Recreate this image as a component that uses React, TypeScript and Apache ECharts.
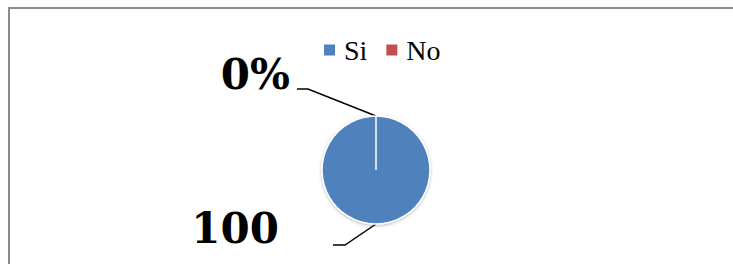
import React, { useEffect, useRef } from "react";
import * as echarts from "echarts";

const categories = ["Si", "No"];
const values = [100, 0];
const colors = ["#4F81BD", "#C0504D"];
const labelTexts = ["100", "0%"];

const pieCenter = [376, 170];
const pieRadius = 54;

// label placement offsets relative to the slice anchor point (layout styling)
const labelOffsets = [
  { tx: -97, ty: 4, line: [[-31, 21], [-43, 21]] },
  { tx: -86, ty: -42, line: [[-68, -27], [-79, -27]] },
];

export default function App() {
  const ref = useRef<HTMLDivElement>(null);
  useEffect(() => {
    if (!ref.current) return;
    const chart = echarts.init(ref.current, null, { renderer: "svg" });
    chart.setOption({
      animation: false,
      backgroundColor: "#ffffff",
      graphic: [
        {
          type: "line",
          shape: { x1: 8, y1: 8, x2: 733, y2: 8 },
          style: { stroke: "#8c8c8c", lineWidth: 2 },
          silent: true,
        },
        {
          type: "line",
          shape: { x1: 9, y1: 7, x2: 9, y2: 264 },
          style: { stroke: "#8c8c8c", lineWidth: 2 },
          silent: true,
        },
        {
          type: "line",
          z: 100,
          shape: {
            x1: pieCenter[0],
            y1: pieCenter[1],
            x2: pieCenter[0],
            y2: pieCenter[1] - pieRadius,
          },
          style: { stroke: "#ffffff", lineWidth: 1.5 },
          silent: true,
        },
      ],
      legend: {
        data: categories,
        left: 322,
        top: 36,
        padding: 0,
        icon: "rect",
        itemWidth: 13,
        itemHeight: 13,
        itemGap: 17,
        selectedMode: false,
        textStyle: {
          fontFamily: "Liberation Serif",
          fontSize: 28,
          color: "#000",
          padding: [0, 0, 0, 3],
        },
      },
      series: [
        {
          type: "pie",
          center: pieCenter,
          radius: pieRadius,
          startAngle: 90,
          clockwise: true,
          avoidLabelOverlap: false,
          data: categories.map((c, i) => ({
            name: c,
            value: values[i],
            itemStyle: { color: colors[i] },
          })),
          itemStyle: {
            borderColor: "#ffffff",
            borderWidth: 1.5,
            shadowBlur: 3,
            shadowOffsetY: 1,
            shadowColor: "rgba(0,0,0,0.3)",
          },
          label: {
            show: true,
            position: "outside",
            formatter: (p: any) => labelTexts[p.dataIndex],
            fontFamily: "DejaVu Serif",
            fontWeight: "bold",
            fontSize: 42,
            color: "#000",
          },
          labelLine: {
            show: true,
            length: 20,
            length2: 10,
            lineStyle: { color: "#000", width: 1.5 },
          },
          labelLayout: (params: any) => {
            const o = labelOffsets[params.dataIndex];
            const pts = params.labelLinePoints;
            const a = pts && pts[0] ? pts[0] : pieCenter;
            return {
              x: a[0] + o.tx,
              y: a[1] + o.ty,
              align: "right",
              verticalAlign: "middle",
              labelLinePoints: [
                [a[0], a[1]],
                [a[0] + o.line[0][0], a[1] + o.line[0][1]],
                [a[0] + o.line[1][0], a[1] + o.line[1][1]],
              ],
            };
          },
          emphasis: { disabled: true },
        },
      ],
    });
    return () => chart.dispose();
  }, []);
  return (
    <div
      ref={ref}
      style={{ position: "fixed", left: 0, top: 0, width: 733, height: 264 }}
    />
  );
}
